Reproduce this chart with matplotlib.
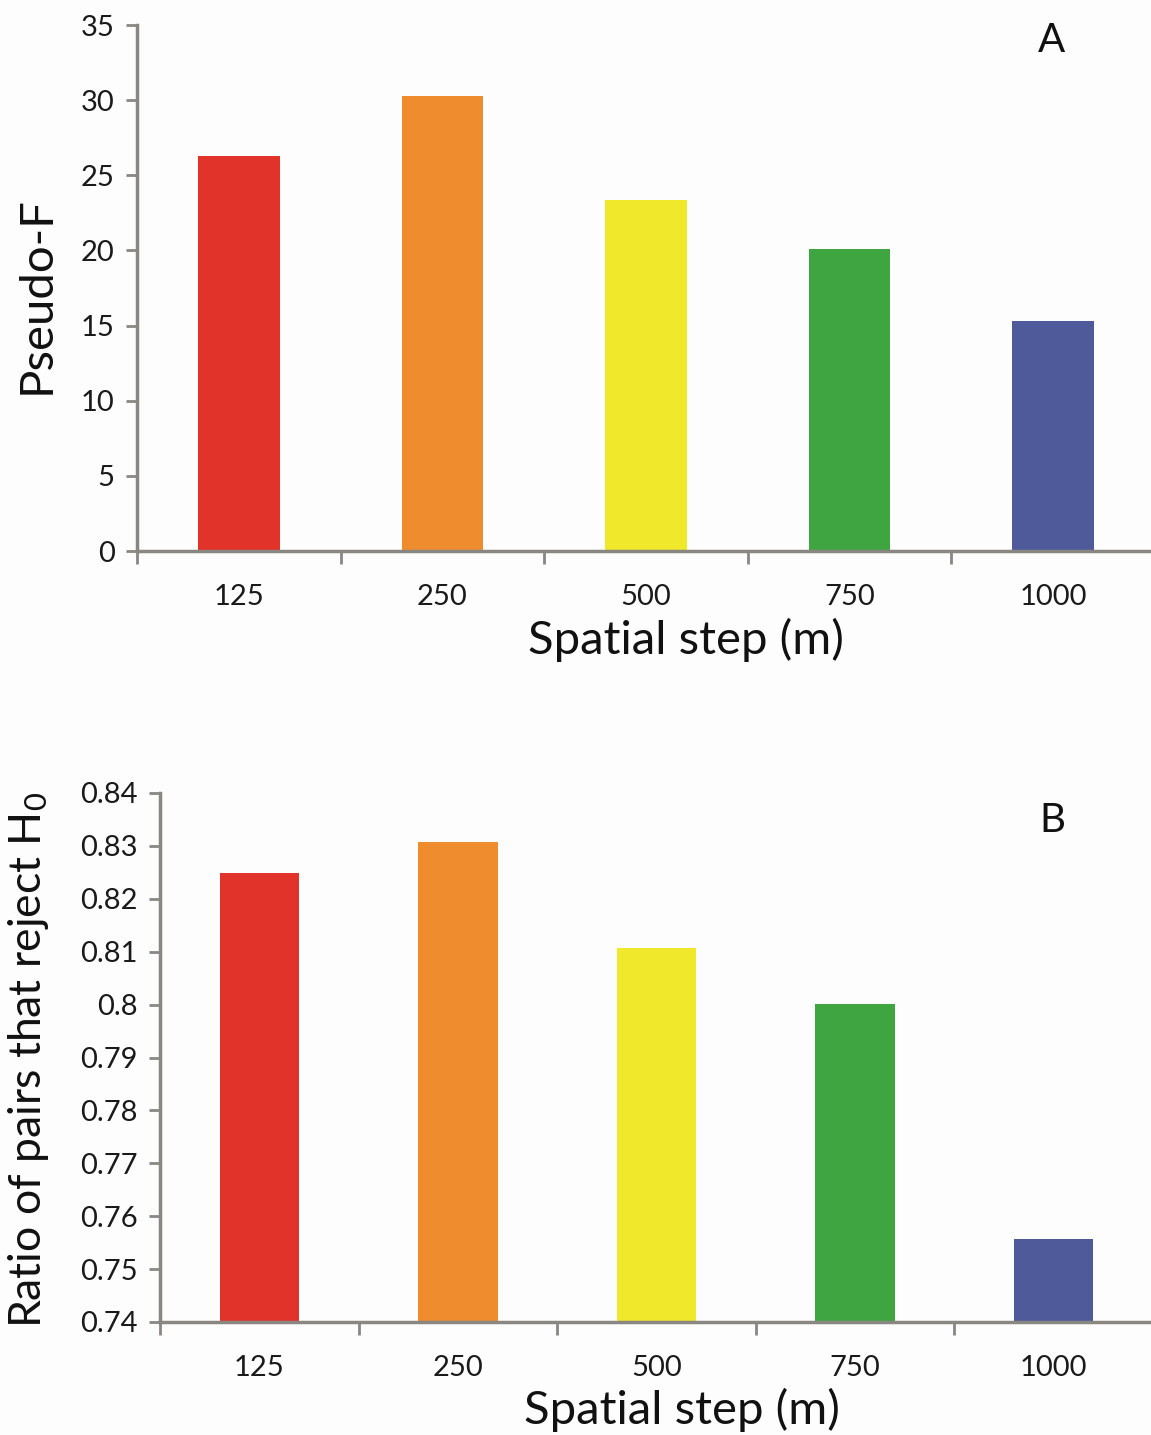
import numpy as np
import matplotlib
matplotlib.use('Agg')
import matplotlib.pyplot as plt

plt.rcParams['font.family'] = ['Lato', 'DejaVu Sans']
plt.rcParams['mathtext.default'] = 'regular'

# data
steps = ['125', '250', '500', '750', '1000']
pseudo_f = [26.3, 30.25, 23.35, 20.1, 15.3]
ratio_reject = [0.8249, 0.8307, 0.8107, 0.8001, 0.7557]
colours = ['#e2332b', '#ef8c2e', '#f0e82a', '#3fa540', '#4e5a9a']

axis_grey = '#8a8682'

W, H = 1151, 1435
fig = plt.figure(figsize=(W / 100, H / 100), dpi=100)
fig.patch.set_facecolor('#fdfdfd')


def style_axes(ax, ymin, ymax, ystep, fmt):
    x = np.arange(len(steps))
    ax.set_facecolor('none')
    ax.set_xlim(-0.5, len(steps) - 0.5)
    ax.set_ylim(ymin, ymax)
    for s in ['top', 'right']:
        ax.spines[s].set_visible(False)
    for s in ['left', 'bottom']:
        ax.spines[s].set_color(axis_grey)
        ax.spines[s].set_linewidth(2.5)
    # boundary ticks (no labels) and centred labels (no tick marks)
    ax.set_xticks(np.arange(-0.5, len(steps) - 0.5, 1.0))
    ax.set_xticklabels([])
    ax.set_xticks(x, minor=True)
    ax.set_xticklabels(steps, minor=True)
    ax.tick_params(axis='x', which='major', length=9, width=2, color=axis_grey)
    ax.tick_params(axis='x', which='minor', length=0, pad=24, labelsize=21, labelcolor='#1a1a1a')
    yt = np.arange(ymin, ymax + ystep / 2, ystep)
    ax.set_yticks(yt)
    ax.set_yticklabels([fmt(v) for v in yt])
    ax.tick_params(axis='y', length=8, width=2, color=axis_grey, pad=8, labelsize=21, labelcolor='#1a1a1a')


# panel A
ax1 = fig.add_axes([137 / W, 1 - 551 / H, 1018 / W, 526 / H])
ax1.bar(np.arange(len(steps)), pseudo_f, width=0.4, color=colours)
style_axes(ax1, 0, 35, 5, lambda v: '%d' % round(v))
fig.text(686 / W, 1 - 640 / H, 'Spatial step (m)', ha='center', va='center', fontsize=34, color='#111111')
fig.text(37 / W, 1 - 295 / H, 'Pseudo-F', rotation=90, ha='center', va='center', fontsize=34, color='#111111')
fig.text(1052 / W, 1 - 40 / H, 'A', ha='center', va='center', fontsize=29, color='#111111')

# panel B
ax2 = fig.add_axes([160 / W, 1 - 1322 / H, 993 / W, 529 / H])
ax2.bar(np.arange(len(steps)), ratio_reject, width=0.4, color=colours)
style_axes(ax2, 0.74, 0.84, 0.01, lambda v: ('%.2f' % v).rstrip('0'))
fig.text(682 / W, 1 - 1410 / H, 'Spatial step (m)', ha='center', va='center', fontsize=34, color='#111111')
fig.text(29 / W, 1 - 1060 / H, 'Ratio of pairs that reject H$_0$', rotation=90, ha='center', va='center',
         fontsize=32, color='#111111')
fig.text(1052 / W, 1 - 820 / H, 'B', ha='center', va='center', fontsize=29, color='#111111')

fig.savefig('out.png', dpi=100, facecolor=fig.get_facecolor())
